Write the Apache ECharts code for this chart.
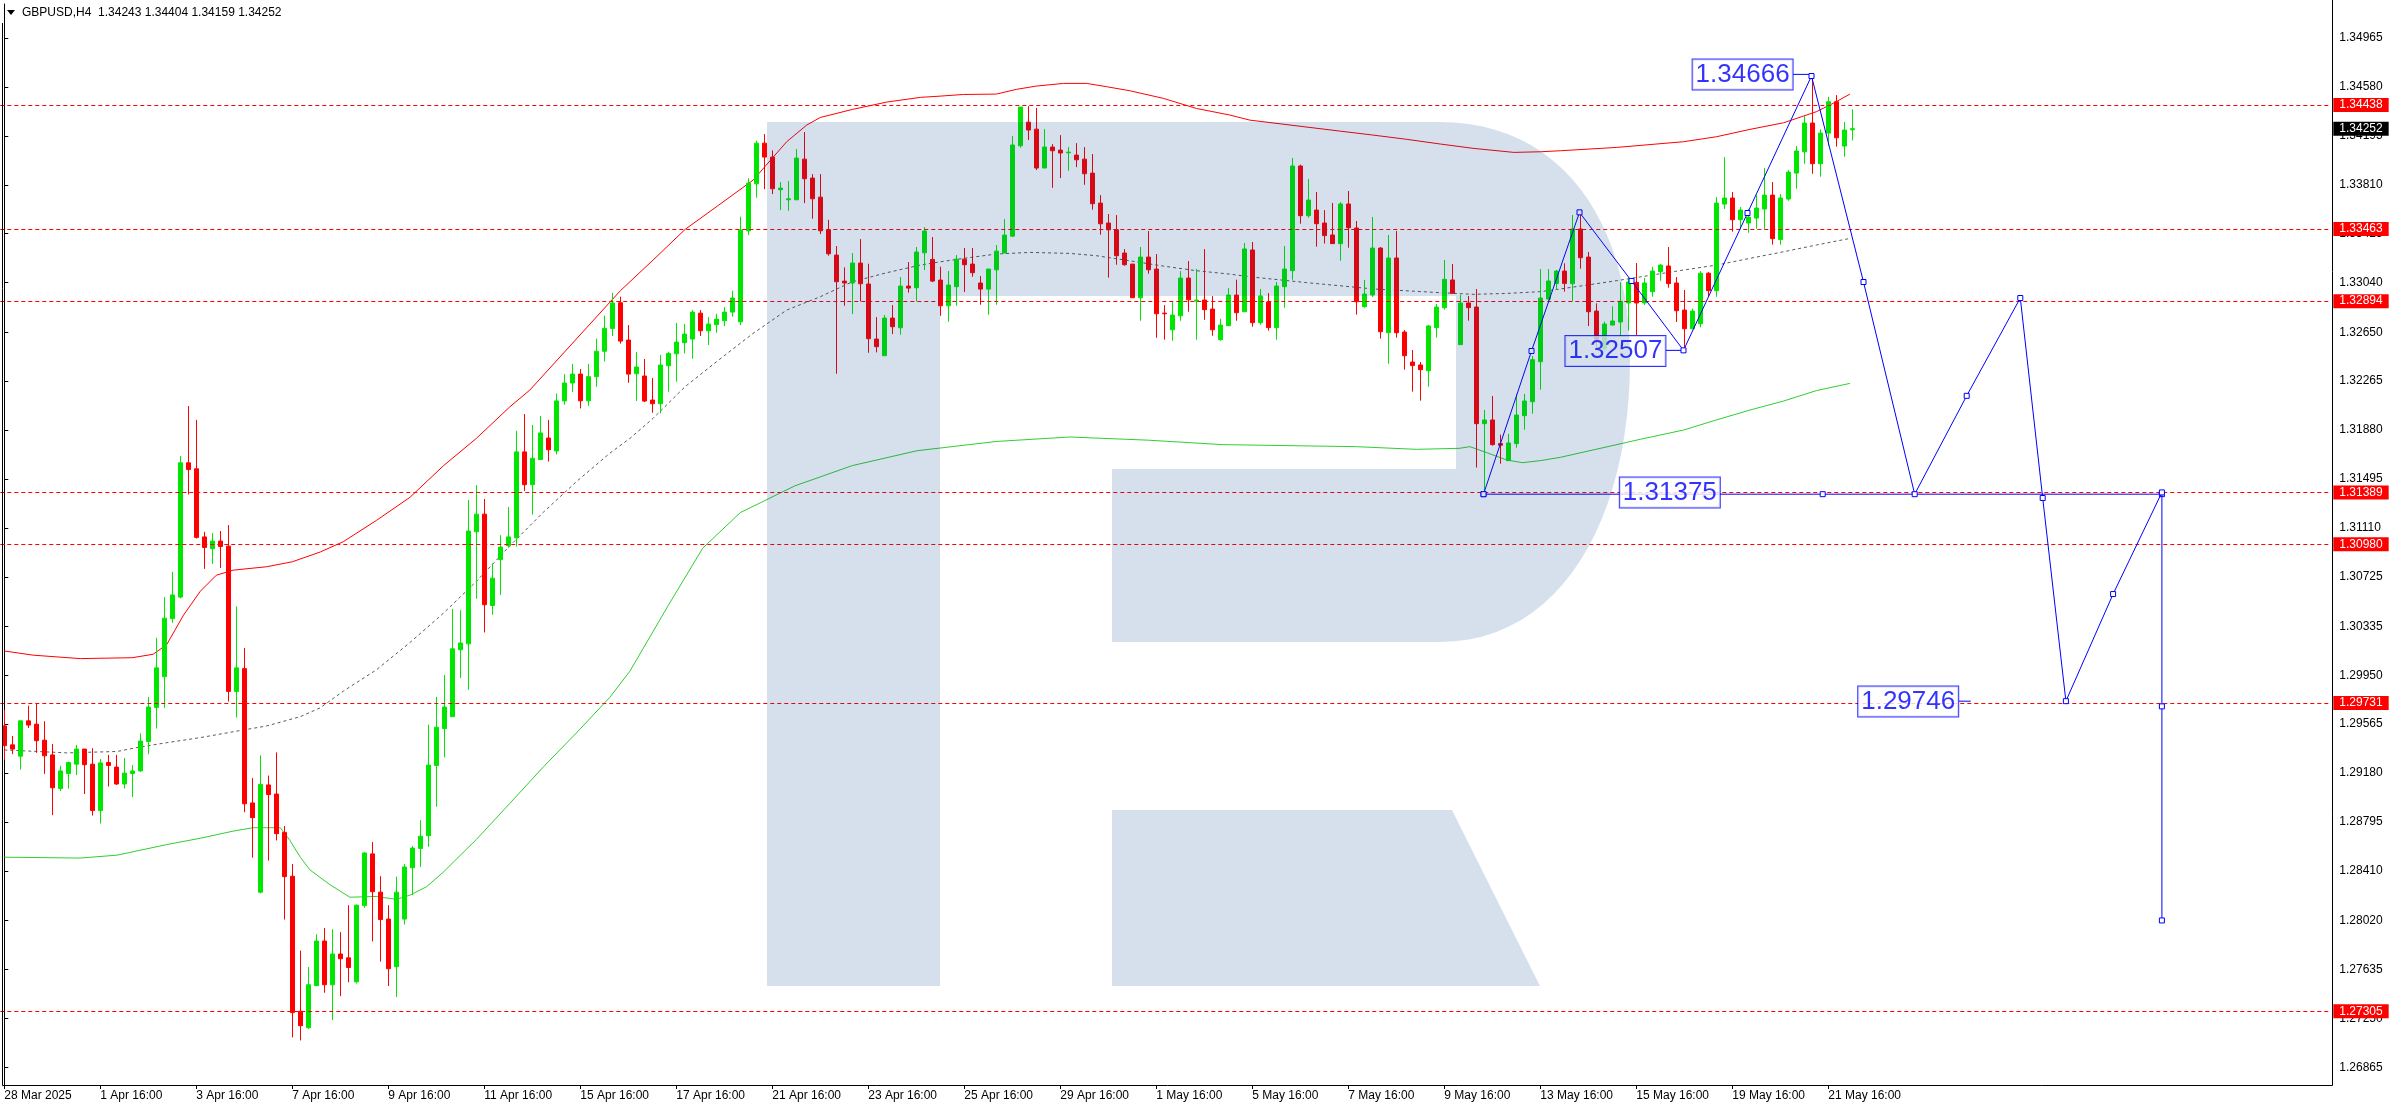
<!DOCTYPE html>
<html><head><meta charset="utf-8">
<script src="https://cdn.jsdelivr.net/npm/echarts@6/dist/echarts.min.js"></script>
<style>html,body{margin:0;padding:0;background:#fff}#c{width:2396px;height:1110px}</style>
</head><body><div id="c"></div>
<script>
const xTickLabels = ['28 Mar 2025','1 Apr 16:00','3 Apr 16:00','7 Apr 16:00','9 Apr 16:00','11 Apr 16:00','15 Apr 16:00','17 Apr 16:00','21 Apr 16:00','23 Apr 16:00','25 Apr 16:00','29 Apr 16:00','1 May 16:00','5 May 16:00','7 May 16:00','9 May 16:00','13 May 16:00','15 May 16:00','19 May 16:00','21 May 16:00'];
const yTickValues = [1.34965,1.34580,1.34195,1.33810,1.33425,1.33040,1.32650,1.32265,1.31880,1.31495,1.31110,1.30725,1.30335,1.29950,1.29565,1.29180,1.28795,1.28410,1.28020,1.27635,1.27250,1.26865];
const hLevels = [1.34438,1.33463,1.32894,1.31389,1.30980,1.29731,1.27305];
const bidPrice = 1.34252;

const openP = [1.29551,1.29402,1.29313,1.29591,1.29565,1.29439,1.29323,1.29058,1.29177,1.29250,
1.29369,1.29250,1.28885,1.29263,1.29227,1.29094,1.29177,1.29197,1.29429,1.29697,
1.29939,1.30396,1.30565,1.31622,1.31575,1.31039,1.30946,1.31006,1.30966,1.29823,
1.30002,1.28945,1.28243,1.29087,1.29015,1.28713,1.28368,1.27305,1.27176,1.27507,
1.27858,1.27514,1.27756,1.27726,1.27537,1.28137,1.28544,1.28243,1.28031,1.27656,
1.28031,1.28435,1.28587,1.28687,1.29240,1.29531,1.29624,1.30151,1.30197,1.31079,
1.31218,1.30499,1.30860,1.30969,1.31032,1.31708,1.31450,1.31648,1.31817,1.31715,
1.32109,1.32250,1.32320,1.32110,1.32300,1.32500,1.32680,1.32882,1.32588,1.32323,
1.32305,1.32116,1.32087,1.32386,1.32480,1.32567,1.32596,1.32800,1.32661,1.32709,
1.32740,1.32808,1.32732,1.33448,1.33818,1.34138,1.34028,1.33771,1.33692,1.33692,
1.34012,1.33863,1.33713,1.33456,1.33257,1.33052,1.33037,1.33194,1.33029,1.32596,
1.32465,1.32761,1.32685,1.33013,1.33000,1.33275,1.33223,1.33060,1.32858,1.33008,
1.33225,1.33186,1.33037,1.32989,1.33141,1.33273,1.33406,1.34117,1.34303,1.34248,
1.33942,1.34107,1.34083,1.34062,1.34044,1.34012,1.33902,1.33666,1.33509,1.33456,
1.33273,1.33186,1.32921,1.33241,1.33147,1.32800,1.32669,1.32779,1.33076,1.32895,
1.32903,1.32832,1.32591,1.32701,1.32942,1.32811,1.33297,1.32725,1.32888,1.32686,
1.33008,1.33134,1.33958,1.33567,1.33611,1.33509,1.33415,1.33347,1.33659,1.33470,
1.32851,1.32943,1.33312,1.32646,1.33234,1.32651,1.32415,1.32392,1.32347,1.32686,
1.32843,1.33061,1.32552,1.32880,1.32848,1.31930,1.31959,1.31773,1.31639,1.31773,
1.31993,1.32103,1.32418,1.32911,1.33034,1.33131,1.33032,1.33462,1.33241,1.32816,
1.32520,1.32706,1.32730,1.32880,1.33042,1.32880,1.32969,1.33126,1.33171,1.33037,
1.32824,1.32677,1.32717,1.33114,1.32977,1.33658,1.33706,1.33535,1.33509,1.33548,
1.33619,1.33729,1.33380,1.33698,1.33902,1.34070,1.34296,1.33976,1.34217,1.34464,
1.34115,1.34243];
const highP = [1.29677,1.29472,1.29591,1.29710,1.29727,1.29588,1.29409,1.29237,1.29270,1.29402,
1.29369,1.29376,1.29290,1.29323,1.29323,1.29299,1.29243,1.29492,1.29780,1.30244,
1.30565,1.30764,1.31675,1.32069,1.31960,1.31079,1.31069,1.31085,1.31132,1.30492,
1.30164,1.29140,1.29319,1.29160,1.29343,1.28763,1.28464,1.27782,1.27653,1.27911,
1.27961,1.27951,1.27928,1.28140,1.28146,1.28557,1.28637,1.28368,1.28140,1.28365,
1.28464,1.28607,1.28809,1.29561,1.29780,1.29952,1.30472,1.30462,1.31330,1.31446,
1.31337,1.30830,1.31052,1.31274,1.31874,1.32006,1.31920,1.31990,1.31960,1.32168,
1.32320,1.32400,1.32360,1.32400,1.32600,1.32780,1.32960,1.32930,1.32706,1.32494,
1.32439,1.32289,1.32470,1.32496,1.32722,1.32714,1.32824,1.32824,1.32769,1.32795,
1.32848,1.32976,1.33559,1.33860,1.34157,1.34209,1.34081,1.33831,1.33839,1.34091,
1.34225,1.33894,1.33894,1.33535,1.33328,1.33160,1.33273,1.33383,1.33189,1.32769,
1.32785,1.32863,1.33084,1.33202,1.33320,1.33477,1.33399,1.33165,1.33131,1.33257,
1.33312,1.33312,1.33092,1.33147,1.33336,1.33540,1.34193,1.34422,1.34429,1.34414,
1.34248,1.34130,1.34201,1.34107,1.34138,1.34107,1.34052,1.33729,1.33580,1.33572,
1.33304,1.33186,1.33320,1.33446,1.33265,1.32863,1.32895,1.33131,1.33210,1.33147,
1.33304,1.32934,1.32756,1.32997,1.33063,1.33352,1.33360,1.32990,1.32958,1.33045,
1.33328,1.34021,1.33968,1.33855,1.33753,1.33611,1.33667,1.33674,1.33761,1.33525,
1.33061,1.33557,1.33320,1.33415,1.33446,1.32667,1.32510,1.32415,1.32707,1.32872,
1.33218,1.33187,1.32943,1.32935,1.32990,1.32038,1.32148,1.31844,1.31849,1.32164,
1.32164,1.32463,1.33147,1.33147,1.33139,1.33192,1.33572,1.33585,1.33281,1.32877,
1.32733,1.32853,1.33042,1.33079,1.33194,1.33077,1.33165,1.33186,1.33320,1.33084,
1.32982,1.32835,1.33131,1.33123,1.33714,1.34028,1.33753,1.33635,1.33619,1.33729,
1.33942,1.33832,1.33737,1.33926,1.34115,1.34351,1.34666,1.34246,1.34503,1.34516,
1.34304,1.34404];
const lowP = [1.29286,1.29329,1.29207,1.29535,1.29339,1.29174,1.28849,1.29038,1.29058,1.29164,
1.29015,1.28846,1.28783,1.29074,1.29087,1.29058,1.28991,1.29190,1.29329,1.29531,
1.29694,1.30363,1.30555,1.31373,1.31026,1.30787,1.30827,1.30794,1.29743,1.29617,
1.28872,1.28514,1.28233,1.28491,1.28650,1.28027,1.27100,1.27076,1.27166,1.27507,
1.27451,1.27236,1.27424,1.27534,1.27524,1.28120,1.27855,1.27696,1.27504,1.27418,
1.27988,1.28219,1.28441,1.28600,1.28915,1.29303,1.29624,1.29929,1.29836,1.30552,
1.30287,1.30426,1.30582,1.30953,1.30963,1.31400,1.31214,1.31648,1.31632,1.31688,
1.32080,1.32180,1.32050,1.32070,1.32220,1.32420,1.32620,1.32560,1.32252,1.32108,
1.32100,1.32016,1.32011,1.32182,1.32260,1.32483,1.32441,1.32620,1.32549,1.32646,
1.32698,1.32772,1.32706,1.33414,1.33708,1.33776,1.33737,1.33611,1.33606,1.33692,
1.33666,1.33543,1.33422,1.33252,1.32323,1.32858,1.32793,1.32892,1.32488,1.32491,
1.32465,1.32635,1.32630,1.32961,1.32892,1.33139,1.33044,1.32779,1.32732,1.32858,
1.32966,1.33086,1.32866,1.32787,1.32866,1.33273,1.33399,1.34102,1.34162,1.33926,
1.33942,1.33787,1.33863,1.33921,1.33949,1.33810,1.33614,1.33417,1.33079,1.33181,
1.33173,1.32921,1.32740,1.33110,1.32606,1.32591,1.32583,1.32740,1.32811,1.32591,
1.32748,1.32622,1.32583,1.32701,1.32740,1.32811,1.32693,1.32709,1.32662,1.32591,
1.32843,1.33063,1.33504,1.33551,1.33323,1.33347,1.33347,1.33213,1.33315,1.32788,
1.32843,1.32927,1.32599,1.32402,1.32607,1.32355,1.32182,1.32111,1.32221,1.32607,
1.32827,1.32953,1.32552,1.32741,1.31584,1.31380,1.31757,1.31615,1.31639,1.31741,
1.31883,1.32009,1.32198,1.32898,1.32982,1.32969,1.32893,1.33150,1.32698,1.32523,
1.32497,1.32706,1.32620,1.32662,1.32628,1.32864,1.32929,1.33055,1.33000,1.32730,
1.32504,1.32677,1.32688,1.32929,1.32929,1.33619,1.33441,1.33462,1.33433,1.33464,
1.33462,1.33339,1.33339,1.33685,1.33779,1.33976,1.33897,1.33874,1.34115,1.34110,
1.34031,1.34159];
const closeP = [1.29396,1.29369,1.29591,1.29558,1.29435,1.29316,1.29064,1.29197,1.29263,1.29369,
1.29246,1.28885,1.29260,1.29240,1.29094,1.29180,1.29197,1.29432,1.29700,1.30008,
1.30399,1.30582,1.31622,1.31569,1.31035,1.30956,1.31006,1.30963,1.29823,1.30008,
1.28938,1.28829,1.29091,1.29011,1.28703,1.28365,1.27295,1.27192,1.27514,1.27858,
1.27514,1.27756,1.27719,1.27650,1.28140,1.28551,1.28246,1.28027,1.27640,1.28243,
1.28441,1.28590,1.28683,1.29243,1.29541,1.29700,1.30158,1.30204,1.31085,1.31218,
1.30505,1.30714,1.30959,1.31039,1.31708,1.31450,1.31658,1.31857,1.31725,1.32109,
1.32250,1.32320,1.32110,1.32300,1.32500,1.32680,1.32880,1.32580,1.32320,1.32376,
1.32108,1.32087,1.32391,1.32483,1.32572,1.32635,1.32808,1.32661,1.32714,1.32753,
1.32808,1.32919,1.33454,1.33823,1.34138,1.34028,1.33779,1.33784,1.33700,1.34020,
1.33858,1.33700,1.33448,1.33267,1.33047,1.33037,1.33194,1.33031,1.32599,1.32536,
1.32761,1.32693,1.33013,1.32997,1.33281,1.33446,1.33052,1.32858,1.33021,1.33225,
1.33181,1.33118,1.32989,1.33147,1.33288,1.33414,1.34123,1.34422,1.34241,1.33942,
1.34107,1.34078,1.34060,1.34067,1.34007,1.33897,1.33661,1.33503,1.33456,1.33252,
1.33181,1.32921,1.33241,1.33141,1.32795,1.32795,1.32785,1.33076,1.32905,1.32903,
1.32827,1.32669,1.32706,1.32942,1.32803,1.33305,1.32725,1.32935,1.32686,1.33013,
1.33147,1.33958,1.33567,1.33690,1.33504,1.33410,1.33347,1.33659,1.33472,1.32890,
1.32950,1.33312,1.32654,1.33234,1.32646,1.32465,1.32387,1.32355,1.32699,1.32848,
1.33066,1.32956,1.32880,1.32843,1.31930,1.31959,1.31765,1.31760,1.31778,1.31998,
1.32108,1.32434,1.32919,1.33053,1.33131,1.33034,1.33462,1.33236,1.32811,1.32594,
1.32714,1.32738,1.32893,1.33045,1.32880,1.33037,1.33131,1.33178,1.33032,1.32819,
1.32677,1.32816,1.33114,1.32977,1.33666,1.33706,1.33535,1.33611,1.33556,1.33627,
1.33729,1.33386,1.33706,1.33910,1.34076,1.34296,1.33976,1.34217,1.34464,1.34180,
1.34241,1.34252];

const upperBand = [[0,1.30141],[3.6,1.30108],[9.5,1.30081],[16,1.30088],[18.6,1.30115],[20.3,1.30191],[22.4,1.30423],[24.5,1.30611],[26.5,1.30737],[28.6,1.30777],[32.8,1.30804],[36,1.30843],[39.5,1.30920],[42.4,1.31002],[46.5,1.31168],[50.7,1.31350],[54.9,1.31599],[59,1.31814],[63.2,1.32063],[65.7,1.32195],[77,1.32976],[81.1,1.33218],[85.1,1.33459],[89.3,1.33650],[93.6,1.33847],[97.8,1.34149],[100.3,1.34280],[102,1.34340],[106,1.34403],[110.3,1.34461],[114.5,1.34498],[117,1.34508],[119.9,1.34521],[124,1.34524],[126.5,1.34561],[129,1.34587],[132.4,1.34608],[135.3,1.34608],[137.8,1.34582],[140.7,1.34550],[144.9,1.34490],[149,1.34411],[153.2,1.34359],[155.7,1.34319],[166.9,1.34233],[171,1.34202],[175.3,1.34168],[179.5,1.34131],[183.6,1.34097],[188.7,1.34065],[192,1.34070],[194.5,1.34078],[201.5,1.34104],[209.9,1.34149],[214,1.34188],[218.2,1.34246],[222.4,1.34298],[226.5,1.34385],[229,1.34464],[230.7,1.34524]];
const middleBand = [[0,1.29362],[7.8,1.29339],[14.1,1.29350],[17,1.29386],[20.3,1.29419],[24.5,1.29459],[28.6,1.29505],[32.8,1.29551],[37,1.29624],[39.5,1.29694],[42.4,1.29826],[46.5,1.29992],[50.7,1.30207],[54.9,1.30439],[59,1.30688],[63.2,1.30969],[67.4,1.31234],[71.5,1.31473],[75.7,1.31698],[78.2,1.31814],[81.1,1.31972],[85.1,1.32221],[89.3,1.32431],[93.6,1.32641],[95.7,1.32732],[97.8,1.32824],[102,1.32929],[106,1.33047],[110.3,1.33118],[114.5,1.33178],[117,1.33204],[119.9,1.33231],[124,1.33265],[128.2,1.33278],[133.2,1.33270],[136.5,1.33252],[140.7,1.33212],[144.9,1.33170],[149,1.33134],[153.2,1.33107],[155.7,1.33086],[162.8,1.33040],[171.2,1.32990],[179.5,1.32961],[183.6,1.32948],[187.8,1.32955],[192,1.32969],[194.5,1.32990],[201.5,1.33055],[209.9,1.33139],[214,1.33178],[218.2,1.33231],[222.4,1.33283],[226.5,1.33336],[230.7,1.33388]];
const lowerBand = [[0,1.28518],[9.5,1.28511],[14.1,1.28534],[20.3,1.28617],[24.5,1.28667],[28.6,1.28723],[31.1,1.28750],[34.5,1.28750],[35.7,1.28650],[37,1.28518],[38.2,1.28418],[40.7,1.28302],[43.2,1.28203],[46.5,1.28209],[49,1.28186],[50.7,1.28219],[52.8,1.28286],[54.9,1.28402],[59,1.28657],[63.2,1.28942],[67.4,1.29230],[71.5,1.29495],[75.7,1.29777],[78.2,1.29982],[83,1.30500],[87.3,1.30950],[92,1.31230],[98.8,1.31440],[106,1.31600],[114.1,1.31717],[124,1.31790],[133.2,1.31825],[143,1.31800],[152.3,1.31765],[169,1.31749],[176.5,1.31728],[181.9,1.31736],[183.2,1.31749],[185.3,1.31702],[187.8,1.31644],[189.8,1.31623],[192,1.31639],[194.5,1.31665],[204.5,1.31807],[209.9,1.31880],[214,1.31959],[218.2,1.32037],[222.4,1.32108],[226.5,1.32190],[230.7,1.32247]];

const zigzag = [[184.9,1.31375],[190.9,1.32502],[196.9,1.33593],[203.4,1.33053],[209.9,1.32507],[217.9,1.33588],[225.9,1.34666],[232.4,1.33045],[238.8,1.31375],[245.3,1.32149],[252.0,1.32919],[254.8,1.31345],[257.7,1.29746],[263.6,1.30589],[269.7,1.31389],[269.7,1.29705],[269.7,1.28020]];
const baseLine = [[184.9,1.31375],[227.3,1.31375],[269.7,1.31375]];
const tagAnchors = [[223.6,1.34679],[207.7,1.32502],[214.5,1.31388],[244.3,1.29743]];
const tagTexts = ['1.34666','1.32507','1.31375','1.29746'];
const connectors = [[[223.6,1.34679],[225.9,1.34679]],[[207.7,1.32507],[209.9,1.32507]],[[244.3,1.29746],[245.8,1.29746]]];

const SLOTS = 291;
const cats = [];
for (let i = 0; i < SLOTS; i++) cats.push(i % 12 === 0 && i / 12 < xTickLabels.length ? xTickLabels[i / 12] : '');
const showTick = (i) => i % 12 === 0 && i / 12 < xTickLabels.length;
const candles = openP.map((o, i) => [o, closeP[i], lowP[i], highP[i]]);
const FONT = '"Liberation Sans", Arial, sans-serif';
const BLUE = '#0000ff';

// watermark outline helper (decoration only)
function bez(p0, p1, p2, p3, n) {
  const out = [];
  for (let k = 1; k <= n; k++) {
    const t = k / n, u = 1 - t;
    out.push([u*u*u*p0[0] + 3*u*u*t*p1[0] + 3*u*t*t*p2[0] + t*t*t*p3[0],
              u*u*u*p0[1] + 3*u*u*t*p1[1] + 3*u*t*t*p2[1] + t*t*t*p3[1]]);
  }
  return out;
}
const wmMain = [[767,122],[1440,122]]
  .concat(bez([1440,122],[1560,122],[1630,220],[1630,360],24))
  .concat(bez([1630,360],[1630,520],[1560,642],[1440,642],24))
  .concat([[1112,642],[1112,469],[1456,469],[1456,296],[940,296],[940,986],[767,986]]);
const wmLeg = [[1112,810],[1452,810],[1540,986],[1112,986]];

const chart = echarts.init(document.getElementById('c'));
const markData = hLevels.map(v => ({ yAxis: v }));
markData.push({ yAxis: bidPrice, lineStyle: { color: 'rgba(0,0,0,0)' }, label: { backgroundColor: '#000000', color: '#ffffff' } });

const lineSeries = (data, color, type, extra) => Object.assign({
  type: 'line', xAxisIndex: 1, yAxisIndex: 0, data: data, symbol: 'none', silent: true,
  lineStyle: { color: color, width: 1, type: type }, z: 3
}, extra || {});

const series = [
  {
    type: 'candlestick', xAxisIndex: 0, yAxisIndex: 0, data: candles, barWidth: 4, silent: true, z: 4,
    itemStyle: { color: '#00e600', color0: '#ff0000', borderColor: '#00e600', borderColor0: '#ff0000', borderWidth: 1 },
    markLine: {
      silent: true, symbol: ['none', 'none'], animation: false, precision: 5,
      lineStyle: { color: '#ff0000', type: [4, 3], width: 1 },
      label: { show: true, position: 'end', distance: 5, formatter: p => Number(p.value).toFixed(5),
        color: '#fff', backgroundColor: '#ff0000', padding: [1, 6, 0, 6], fontSize: 12, lineHeight: 13, fontFamily: FONT },
      emphasis: { disabled: true },
      data: markData
    }
  },
  lineSeries(upperBand, '#ff0000', 'solid'),
  lineSeries(middleBand, '#5a5a5a', [3, 3]),
  lineSeries(lowerBand, '#32cd32', 'solid'),
  lineSeries(baseLine, BLUE, 'solid', { symbol: 'rect', symbolSize: 5, showAllSymbol: true, itemStyle: { color: '#fff', borderColor: BLUE, borderWidth: 1 }, z: 5 }),
  lineSeries(zigzag, BLUE, 'solid', { symbol: 'rect', symbolSize: 5, showAllSymbol: true, itemStyle: { color: '#fff', borderColor: BLUE, borderWidth: 1 }, z: 6 })
];
connectors.forEach(c => series.push(lineSeries(c, BLUE, 'solid', { z: 6 })));
series.push({
  type: 'scatter', xAxisIndex: 1, yAxisIndex: 0, silent: true, symbolSize: 1, itemStyle: { color: 'rgba(0,0,0,0)' }, z: 7,
  data: tagAnchors.map((p, i) => ({ value: p, label: { formatter: tagTexts[i] } })),
  label: { show: true, position: 'left', distance: 0, color: BLUE, fontSize: 26, fontFamily: FONT, lineHeight: 28,
    backgroundColor: '#fff', borderColor: BLUE, borderWidth: 1, padding: [2, 3, 0, 3] }
});

const option = {
  animation: false,
  backgroundColor: '#ffffff',
  grid: { left: 0.3, right: 67.7, top: 4, bottom: 25, containLabel: false },
  xAxis: [
    { type: 'category', data: cats, boundaryGap: true,
      axisLine: { show: false },
      axisTick: { show: true, alignWithLabel: true, interval: (i) => showTick(i), length: 4, lineStyle: { color: '#000' } },
      axisLabel: { show: true, interval: (i) => showTick(i), align: 'left', color: '#000', fontFamily: FONT, fontSize: 12, margin: 5 },
      splitLine: { show: false } },
    { type: 'value', min: -0.5, max: SLOTS - 0.5, show: false }
  ],
  yAxis: [{
    type: 'value', position: 'right', offset: 4, min: 1.26725, max: 1.35233,
    axisLine: { show: true, lineStyle: { color: '#000' } },
    axisTick: { show: true, customValues: yTickValues, length: 4, lineStyle: { color: '#000' } },
    axisLabel: { show: true, customValues: yTickValues, formatter: v => Number(v).toFixed(5), margin: 7, color: '#000', fontFamily: FONT, fontSize: 12 },
    splitLine: { show: false }
  }],
  graphic: [
    { type: 'polygon', z: 50, silent: true, shape: { points: wmMain }, style: { fill: 'rgba(0,62,137,0.16)' } },
    { type: 'polygon', z: 50, silent: true, shape: { points: wmLeg }, style: { fill: 'rgba(0,62,137,0.16)' } },
    { type: 'polyline', z: 60, silent: true, shape: { points: [[2.5, 23], [2.5, 1085.5], [2332.5, 1085.5], [2332.5, 0]] }, style: { stroke: '#000', lineWidth: 1, fill: null } },
    { type: 'polygon', z: 60, silent: true, shape: { points: [[7, 10], [15, 10], [11, 15]] }, style: { fill: '#000' } },
    { type: 'text', z: 60, silent: true, x: 22, y: 13, style: { text: 'GBPUSD,H4  1.34243 1.34404 1.34159 1.34252', font: '12px ' + FONT, fill: '#000', verticalAlign: 'middle' } }
  ],
  series: series
};
chart.setOption(option);
</script>
</body></html>
